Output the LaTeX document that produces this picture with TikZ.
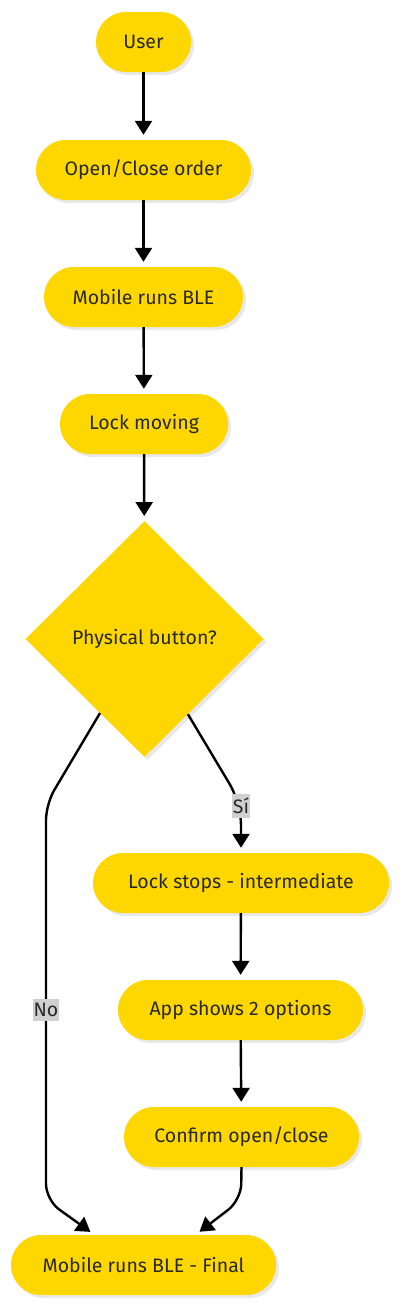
\documentclass[tikz,border=0pt]{standalone}
\usepackage{fontspec}
\setmainfont{Fira Sans}
\usetikzlibrary{shapes.geometric,shadows,arrows.meta}
\definecolor{nodefill}{RGB}{255,215,0}
\definecolor{txt}{RGB}{40,40,40}
\definecolor{lblbg}{RGB}{208,208,208}
\tikzset{
  x=1pt, y=-1pt,
  myshadow/.style={drop shadow={shadow xshift=3pt, shadow yshift=-3pt, fill=black!9, opacity=1}},
  pill/.style={rectangle, rounded corners=30pt, fill=nodefill, minimum height=60pt, inner xsep=10pt,
    font=\fontsize{19.5}{23}\selectfont, text=txt, myshadow},
  decision/.style={diamond, fill=nodefill, minimum width=238pt, minimum height=236pt, inner sep=0pt,
    font=\fontsize{19.5}{23}\selectfont, text=txt, myshadow},
  conn/.style={line width=2.4pt, draw=black, -{Triangle[length=14pt,width=17pt]}, shorten >=5pt},
  lbl/.style={fill=lblbg, text=txt, inner xsep=1pt, inner ysep=4pt, font=\fontsize{19.5}{23}\selectfont},
}
\begin{document}
\begin{tikzpicture}
\useasboundingbox (0,0) rectangle (400,1307);
\node[pill, minimum width=95pt] (user) at (143.5,42) {User};
\node[pill, minimum width=215pt] (order) at (143.5,170) {Open/Close order};
\node[pill, minimum width=199pt] (ble) at (143.5,297) {Mobile runs BLE};
\node[pill, minimum width=168pt] (lockmov) at (144,424) {Lock moving};
\node[decision] (btn) at (144.5,639) {Physical button?};
\node[pill, minimum width=296pt] (stops) at (241,883) {Lock stops - intermediate};
\node[pill, minimum width=245pt] (app) at (240.5,1010) {App shows 2 options};
\node[pill, minimum width=235pt] (confirm) at (241.5,1137) {Confirm open/close};
\node[pill, minimum width=265pt] (final) at (143.5,1265) {Mobile runs BLE - Final};

\draw[conn] (user) -- (order);
\draw[conn] (order) -- (ble);
\draw[conn] (ble) -- (lockmov);
\draw[conn] (lockmov) -- (btn);

\coordinate (siturn) at (241,803);
\draw[conn, rounded corners=22pt] (btn.-60) -- (siturn) -- (stops);
\node[lbl] (si) at (241,806) {Sí};

\coordinate (noturn) at (46,804);
\coordinate (nobottom) at (46,1200);
\draw[conn, rounded corners=16pt] (btn.-121) -- (noturn) -- (nobottom) -- ([xshift=-49pt]final.north);
\node[lbl] (no) at (46,1010) {No};

\draw[conn] (stops) -- (app);
\draw[conn] (app) -- (confirm);
\coordinate (cbottom) at (241,1200);
\draw[conn, rounded corners=16pt] (confirm.south) -- (cbottom) -- ([xshift=52pt]final.north);
\end{tikzpicture}
\end{document}
